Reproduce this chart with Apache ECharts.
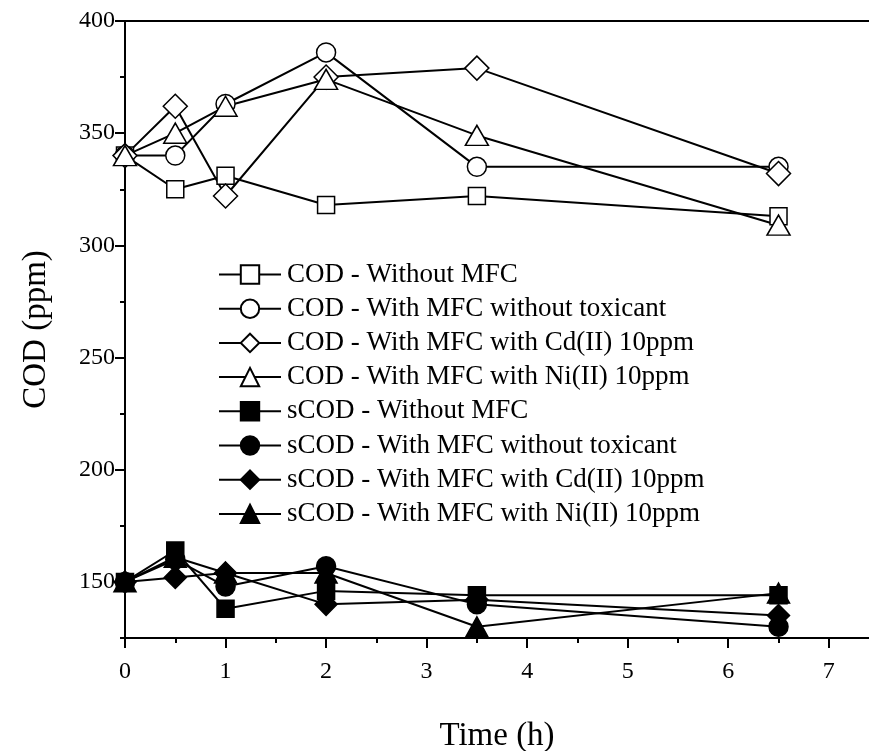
<!DOCTYPE html>
<html>
<head>
<meta charset="utf-8">
<title>COD and sCOD over time</title>
<script src="https://cdn.jsdelivr.net/npm/echarts@6/dist/echarts.min.js"></script>
<style>
  html, body { margin: 0; padding: 0; background: #fff; }
  #chart { width: 869px; height: 751px; }
</style>
</head>
<body>
<div id="chart"></div>
<script>
// Sampling times (h)
const times = [0, 0.5, 1, 2, 3.5, 6.5];

// Total COD (ppm)
const codWithoutMFC = [340, 325, 331, 318, 322, 313];
const codWithMFC = [340, 340, 363, 386, 335, 335];
const codCd = [340, 362, 322, 375, 379, 332];
const codNi = [340, 350, 362, 374, 349, 309];

// Soluble COD (ppm)
const scodWithoutMFC = [150, 164, 138, 146, 144, 144];
const scodWithMFC = [150, 160, 148, 157, 140, 130];
const scodCd = [150, 152, 154, 140, 142, 135];
const scodNi = [150, 161, 154, 154, 130, 145];

// Axis ticks and labels
const xMajorTicks = [0, 1, 2, 3, 4, 5, 6, 7];
const xMinorTicks = [0.5, 1.5, 2.5, 3.5, 4.5, 5.5, 6.5];
const yMajorTicks = [150, 200, 250, 300, 350, 400];
const yMinorTicks = [125, 175, 225, 275, 325, 375];

const seriesNames = [
  'COD - Without MFC',
  'COD - With MFC without toxicant',
  'COD - With MFC with Cd(II) 10ppm',
  'COD - With MFC with Ni(II) 10ppm',
  'sCOD - Without MFC',
  'sCOD - With MFC without toxicant',
  'sCOD - With MFC with Cd(II) 10ppm',
  'sCOD - With MFC with Ni(II) 10ppm'
];

const FONT = "'Liberation Serif', 'Times New Roman', serif";

function pairs(values) {
  return times.map((t, i) => [t, values[i]]);
}

function makeSeries(name, values, symbol, size, filled) {
  return {
    name: name,
    type: 'line',
    data: pairs(values),
    xAxisIndex: 0,
    yAxisIndex: 0,
    symbol: symbol,
    symbolSize: size,
    showAllSymbol: true,
    lineStyle: { color: '#000', width: 2 },
    itemStyle: {
      color: filled ? '#000' : '#fff',
      borderColor: '#000',
      borderWidth: 1.5
    },
    emphasis: { disabled: true }
  };
}

const series = [
  makeSeries(seriesNames[0], codWithoutMFC, 'rect', 17, false),
  makeSeries(seriesNames[1], codWithMFC, 'circle', 19, false),
  makeSeries(seriesNames[2], codCd, 'diamond', 24, false),
  makeSeries(seriesNames[3], codNi, 'triangle', [23, 20], false),
  makeSeries(seriesNames[4], scodWithoutMFC, 'rect', 17, true),
  makeSeries(seriesNames[5], scodWithMFC, 'circle', 19, true),
  makeSeries(seriesNames[6], scodCd, 'diamond', 22, true),
  makeSeries(seriesNames[7], scodNi, 'triangle', [22, 20], true)
];

const axisLineStyle = { color: '#000', width: 2 };

const chart = echarts.init(document.getElementById('chart'), null, { renderer: 'canvas' });
chart.setOption({
  animation: false,
  backgroundColor: '#fff',
  grid: { left: 125, right: 0, top: 21, bottom: 113, containLabel: false, outerBoundsMode: 'none' },
  legend: {
    orient: 'vertical',
    left: 218,
    top: 261,
    padding: 0,
    itemWidth: 62,
    itemHeight: 23,
    itemGap: 7.2,
    selectedMode: false,
    data: seriesNames,
    textStyle: { fontFamily: FONT, fontSize: 27, color: '#000', lineHeight: 26, padding: [0, 0, 0, 1] }
  },
  xAxis: [
    {
      type: 'value', position: 'bottom', min: 0, max: 7.4,
      name: 'Time (h)', nameLocation: 'middle', nameGap: 82,
      nameTextStyle: { fontFamily: FONT, fontSize: 33, color: '#000' },
      axisLine: { show: true, onZero: false, lineStyle: axisLineStyle },
      axisTick: { show: true, length: 10, inside: false, customValues: xMajorTicks, lineStyle: axisLineStyle },
      axisLabel: { customValues: xMajorTicks, margin: 22, fontFamily: FONT, fontSize: 24, color: '#000' },
      splitLine: { show: false }
    },
    {
      type: 'value', position: 'bottom', min: 0, max: 7.4,
      axisLine: { show: false, onZero: false },
      axisTick: { show: true, length: 5, customValues: xMinorTicks, lineStyle: axisLineStyle },
      axisLabel: { show: false },
      splitLine: { show: false }
    },
    {
      type: 'value', position: 'top', min: 0, max: 7.4,
      axisLine: { show: true, onZero: false, lineStyle: axisLineStyle },
      axisTick: { show: false },
      axisLabel: { show: false },
      splitLine: { show: false }
    }
  ],
  yAxis: [
    {
      type: 'value', position: 'left', min: 125, max: 400,
      name: 'COD (ppm)', nameLocation: 'middle', nameGap: 72,
      nameTextStyle: { fontFamily: FONT, fontSize: 33, color: '#000' },
      axisLine: { show: true, onZero: false, lineStyle: axisLineStyle },
      axisTick: { show: true, length: 10, customValues: yMajorTicks, lineStyle: axisLineStyle },
      axisLabel: { customValues: yMajorTicks, margin: 10, fontFamily: FONT, fontSize: 24, color: '#000' },
      splitLine: { show: false }
    },
    {
      type: 'value', position: 'left', min: 125, max: 400,
      axisLine: { show: false, onZero: false },
      axisTick: { show: true, length: 5, customValues: yMinorTicks, lineStyle: axisLineStyle },
      axisLabel: { show: false },
      splitLine: { show: false }
    }
  ],
  series: series
});
</script>
</body>
</html>
